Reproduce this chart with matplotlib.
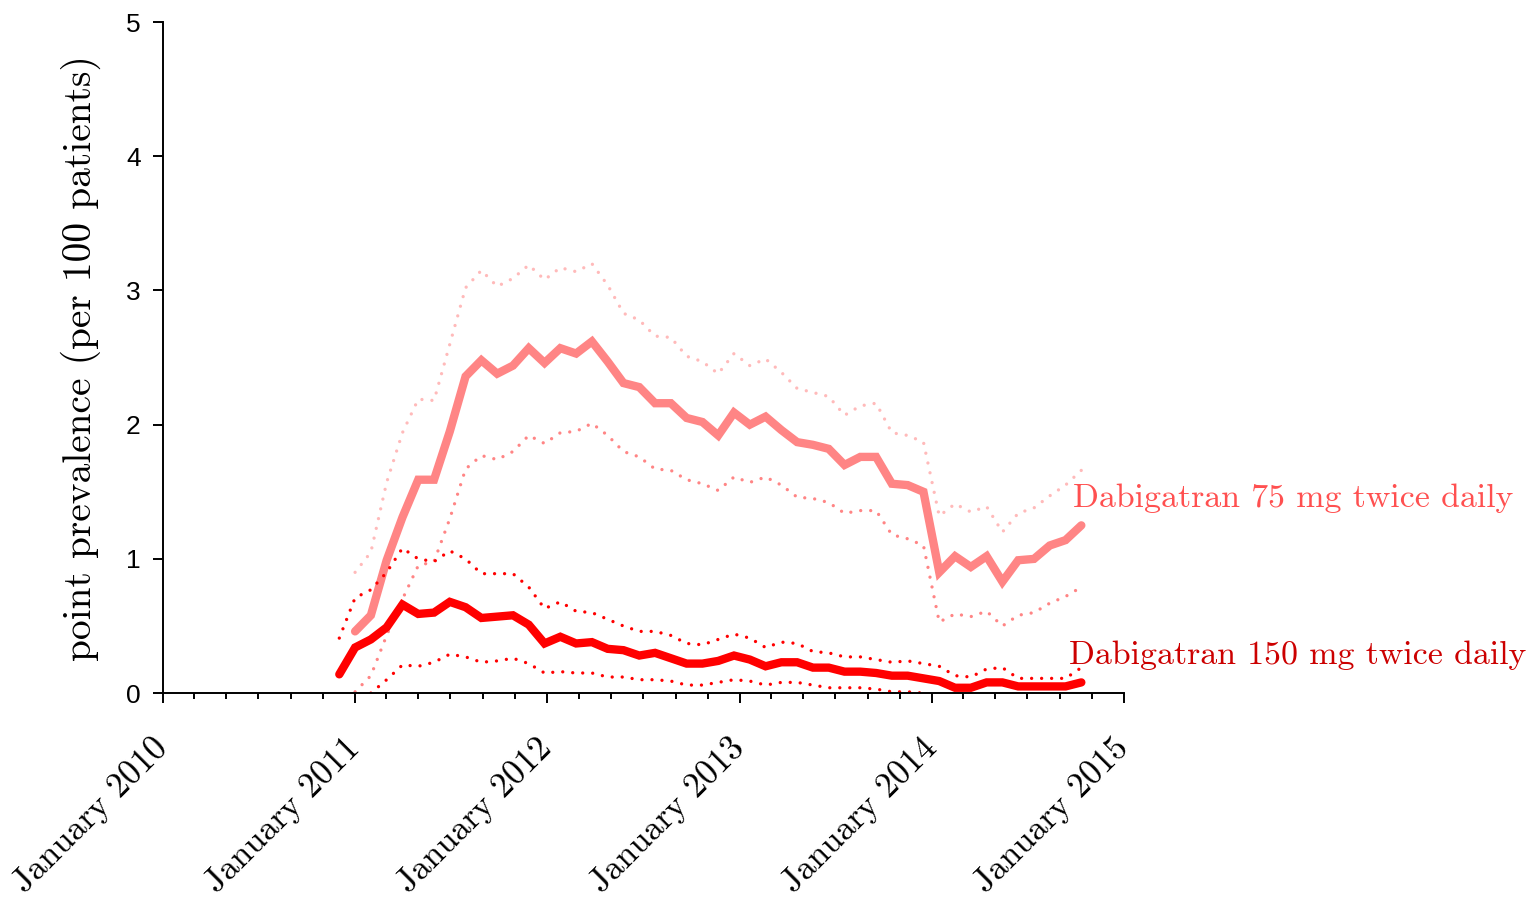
import datetime as dt
import matplotlib
matplotlib.use("Agg")
import matplotlib.pyplot as plt
import matplotlib.dates as mdates
import pandas as pd

# points are 30 days apart; 150 mg series starts one step earlier
start_150 = dt.datetime(2010, 12, 2)
step = "30D"

# Dabigatran 75 mg twice daily (starts Jan 2011)
d75 = [0.46, 0.58, 0.99, 1.31, 1.59, 1.59, 1.95, 2.36, 2.48, 2.38, 2.44, 2.57,
       2.46, 2.57, 2.53, 2.62, 2.47, 2.31, 2.28, 2.16, 2.16, 2.05, 2.02, 1.92,
       2.09, 2.00, 2.06, 1.96, 1.87, 1.85, 1.82, 1.70, 1.76, 1.76, 1.56, 1.55,
       1.50, 0.90, 1.02, 0.94, 1.02, 0.83, 0.99, 1.00, 1.10, 1.14, 1.25]
d75_hi = [0.90, 1.05, 1.57, 1.94, 2.19, 2.18, 2.60, 3.02, 3.15, 3.03, 3.09, 3.19,
          3.08, 3.17, 3.14, 3.20, 3.04, 2.83, 2.78, 2.66, 2.65, 2.51, 2.47, 2.38,
          2.53, 2.44, 2.49, 2.39, 2.27, 2.24, 2.21, 2.07, 2.14, 2.16, 1.94, 1.92,
          1.87, 1.32, 1.41, 1.35, 1.39, 1.20, 1.34, 1.38, 1.47, 1.55, 1.66]
d75_lo = [0.01, 0.13, 0.43, 0.70, 0.95, 0.98, 1.30, 1.67, 1.77, 1.74, 1.80, 1.92,
          1.86, 1.94, 1.95, 2.01, 1.92, 1.80, 1.76, 1.67, 1.66, 1.59, 1.56, 1.51,
          1.61, 1.57, 1.61, 1.55, 1.46, 1.45, 1.42, 1.34, 1.36, 1.36, 1.18, 1.15,
          1.10, 0.53, 0.59, 0.57, 0.61, 0.50, 0.58, 0.60, 0.67, 0.72, 0.79]

# Dabigatran 150 mg twice daily (starts Dec 2010)
d150 = [0.14, 0.34, 0.40, 0.49, 0.66, 0.59, 0.60, 0.68, 0.64, 0.56, 0.57, 0.58,
        0.51, 0.37, 0.42, 0.37, 0.38, 0.33, 0.32, 0.28, 0.30, 0.26, 0.22, 0.22,
        0.24, 0.28, 0.25, 0.20, 0.23, 0.23, 0.19, 0.19, 0.16, 0.16, 0.15, 0.13,
        0.13, 0.11, 0.09, 0.04, 0.04, 0.08, 0.08, 0.05, 0.05, 0.05, 0.05, 0.08]
d150_hi = [0.41, 0.71, 0.77, 0.90, 1.08, 1.00, 0.98, 1.06, 1.00, 0.89, 0.89, 0.89,
           0.79, 0.63, 0.68, 0.61, 0.60, 0.55, 0.50, 0.46, 0.46, 0.43, 0.37, 0.36,
           0.40, 0.44, 0.41, 0.34, 0.38, 0.37, 0.31, 0.30, 0.27, 0.27, 0.25, 0.23,
           0.24, 0.22, 0.20, 0.13, 0.12, 0.18, 0.19, 0.11, 0.11, 0.11, 0.11, 0.19]
# lower bound starts two steps later and stops where it reaches zero
d150_lo = [0.00, 0.10, 0.21, 0.20, 0.23, 0.29, 0.27, 0.23, 0.24, 0.26, 0.22,
           0.15, 0.16, 0.15, 0.15, 0.12, 0.12, 0.10, 0.10, 0.09, 0.06, 0.06,
           0.08, 0.10, 0.09, 0.06, 0.08, 0.08, 0.06, 0.04, 0.04, 0.04, 0.03,
           0.01, 0.01, 0.00]

t150 = pd.date_range(start_150, periods=len(d150), freq=step)
t75 = t150[1:1 + len(d75)]
t150_lo = t150[2:2 + len(d150_lo)]

c75 = "#ff8585"
c75_hi = "#ffbaba"
c150 = "#ff0000"
serif = "cmr10"

fig = plt.figure(figsize=(15.29, 8.99), dpi=100)
ax = fig.add_axes([0.1066, 0.229, 0.6285, 0.7465])

dots = (0, (0.001, 3.0))
dot_kw = dict(lw=2.4, ls=dots, dash_capstyle="round")
line_kw = dict(lw=6.0, solid_capstyle="round", solid_joinstyle="miter")
ax.plot(t75, d75_hi, color=c75_hi, **dot_kw)
ax.plot(t75, d75_lo, color=c75, **dot_kw)
ax.plot(t75, d75, color=c75, **line_kw)
ax.plot(t150, d150_hi, color=c150, **dot_kw)
ax.plot(t150_lo, d150_lo, color=c150, **dot_kw)
ax.plot(t150, d150, color=c150, **line_kw)

ax.set_xlim(dt.datetime(2010, 1, 1), dt.datetime(2015, 1, 1))
ax.set_ylim(0, 5)

years = [2010, 2011, 2012, 2013, 2014, 2015]
ax.set_xticks([dt.datetime(y, 1, 1) for y in years])
ax.set_xticklabels([f"January {y}" for y in years], rotation=45, ha="right",
                   va="center", rotation_mode="anchor", family=serif, fontsize=25)
ax.xaxis.set_minor_locator(mdates.MonthLocator(bymonth=[3, 5, 7, 9, 11]))
ax.tick_params(axis="x", which="major", length=7.5, width=1.4, pad=29)
ax.tick_params(axis="x", which="minor", length=4, width=1.4)

ax.set_yticks(range(6))
ax.set_yticklabels([str(v) for v in range(6)], family="Liberation Sans", fontsize=19)
ax.tick_params(axis="y", length=7, width=1.4, pad=9)

for s in ["top", "right"]:
    ax.spines[s].set_visible(False)
for s in ["left", "bottom"]:
    ax.spines[s].set_linewidth(1.4)

ax.set_ylabel("point prevalence (per 100 patients)", family=serif, fontsize=28.4,
              labelpad=18)

ax.text(dt.datetime(2014, 9, 26), 1.45, "Dabigatran 75 mg twice daily",
        color="#ff5050", family=serif, fontsize=24.4, va="center", ha="left",
        clip_on=False)
ax.text(dt.datetime(2014, 9, 18), 0.28, "Dabigatran 150 mg twice daily",
        color="#cc0000", family=serif, fontsize=24.4, va="center", ha="left",
        clip_on=False)

fig.savefig("out.png", dpi=100)
